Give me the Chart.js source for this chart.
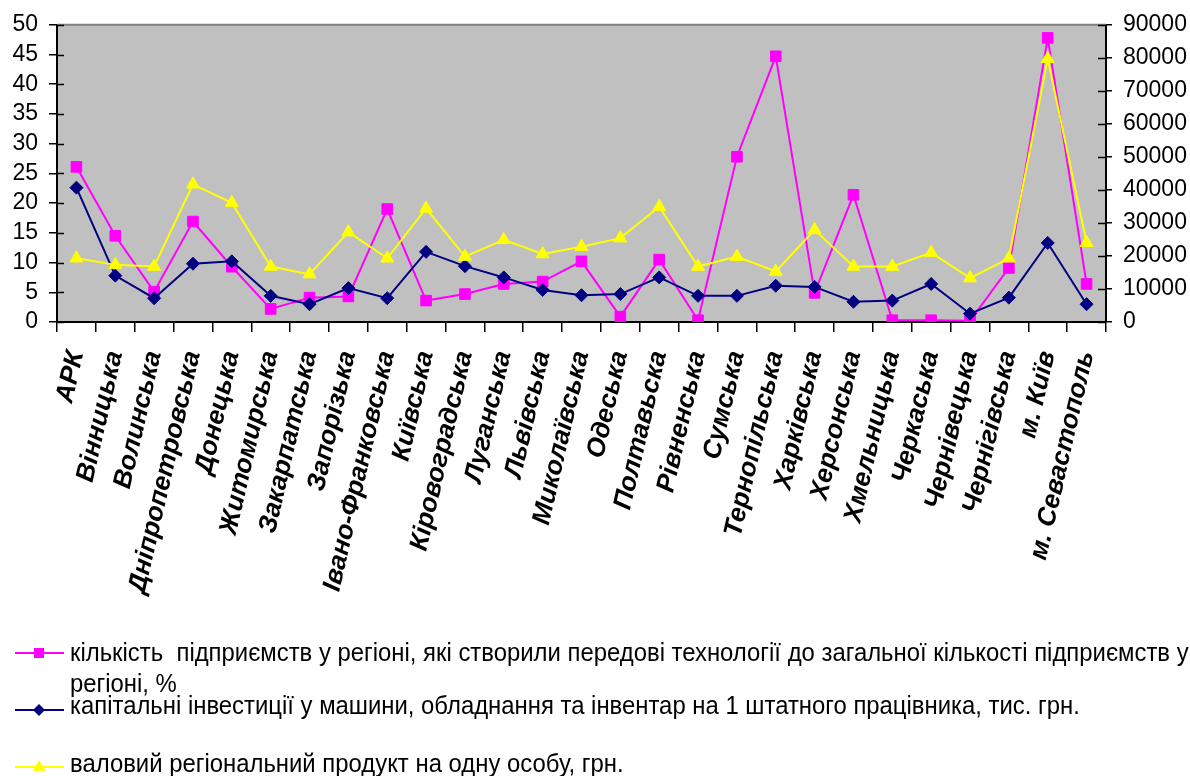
<!DOCTYPE html>
<html lang="uk">
<head>
<meta charset="utf-8">
<title>Регіони України: технології, інвестиції, ВРП</title>
<script src="https://cdn.jsdelivr.net/npm/chart.js@4.4.1/dist/chart.umd.min.js"></script>
<style>
  html, body { margin: 0; padding: 0; background: #ffffff; }
  #wrap { position: relative; width: 1190px; height: 776px; overflow: hidden; }
  #c { position: absolute; left: 0; top: 0; }
  .lg {
    position: absolute; left: 70px;
    font-family: Arial, "Liberation Sans", sans-serif;
    font-size: 25px; line-height: 1; color: #000;
    white-space: pre;
    transform-origin: 0 0; transform: scaleX(0.955);
  }
</style>
</head>
<body>
<div id="wrap">
  <canvas id="c" width="1190" height="776"></canvas>
  <div class="lg" id="lg1" style="top:640px"></div>
  <div class="lg" id="lg1b" style="top:671px"></div>
  <div class="lg" id="lg2" style="top:693px"></div>
  <div class="lg" id="lg3" style="top:751px"></div>
</div>
<script>
// Regions (categories on the x axis)
const regions = [
  'АРК', 'Вінницька', 'Волинська', 'Дніпропетровська', 'Донецька', 'Житомирська',
  'Закарпатська', 'Запорізька', 'Івано-Франковська', 'Київська', 'Кіровоградська',
  'Луганська', 'Львівська', 'Миколаївська', 'Одеська', 'Полтавьска', 'Рівненська',
  'Сумська', 'Тернопільська', 'Харківська', 'Херсонська', 'Хмельницька', 'Черкаська',
  'Чернівецька', 'Чернігівська', 'м. Київ', 'м. Севастополь'
];

// Share of enterprises that created advanced technologies, % (left axis)
const advancedTechShare = [
  26.1, 14.5, 5.1, 16.9, 9.3, 2.2, 4.1, 4.3, 19.0, 3.6, 4.7, 6.4, 6.8, 10.2,
  0.9, 10.5, 0.3, 27.8, 44.7, 4.9, 21.4, 0.3, 0.3, 0.2, 9.1, 47.8, 6.4
];

// Capital investment in machinery per employee, thousand UAH (left axis)
const equipmentInvestment = [
  22.6, 7.8, 4.0, 9.8, 10.2, 4.4, 3.0, 5.7, 4.0, 11.8, 9.4, 7.5, 5.4, 4.5,
  4.7, 7.5, 4.4, 4.4, 6.1, 5.9, 3.4, 3.6, 6.4, 1.4, 4.1, 13.3, 3.0
];

// Gross regional product per capita, UAH (right axis)
const grpPerCapita = [
  19300, 17300, 16800, 41700, 36100, 16800, 14500, 27200, 19300, 34400, 19800,
  24900, 20600, 22800, 25400, 34900, 16800, 19800, 15300, 27900, 16800, 16800,
  21000, 13300, 19300, 79700, 24000
];

// Series names
const seriesNames = [
  'кількість  підприємств у регіоні, які створили передові технології до загальної кількості підприємств у',
  'регіоні, %',
  'капітальні інвестиції у машини, обладнання та інвентар на 1 штатного працівника, тис. грн.',
  'валовий регіональний продукт на одну особу, грн.'
];

document.getElementById('lg1').textContent = seriesNames[0];
document.getElementById('lg1b').textContent = seriesNames[1];
document.getElementById('lg2').textContent = seriesNames[2];
document.getElementById('lg3').textContent = seriesNames[3];

const PINK = '#FF00FF', NAVY = '#000080', YELLOW = '#FFFF00';
const FONT = 'Arial, "Liberation Sans", sans-serif';

// Grey plot background, top frame, inner halves of the value-axis ticks, legend keys
const plotDecor = {
  id: 'plotDecor',
  beforeDraw(chart) {
    const { ctx, chartArea: a } = chart;
    ctx.save();
    ctx.fillStyle = '#C0C0C0';
    ctx.fillRect(a.left, a.top, a.right - a.left, a.bottom - a.top);
    ctx.restore();
  },
  afterDraw(chart) {
    const { ctx, chartArea: a, scales } = chart;
    ctx.save();
    ctx.strokeStyle = '#808080';
    ctx.lineWidth = 2;
    ctx.beginPath();
    ctx.moveTo(a.left, a.top);
    ctx.lineTo(a.right, a.top);
    ctx.stroke();

    ctx.strokeStyle = '#000';
    ctx.lineWidth = 1.5;
    scales.y.ticks.forEach(t => {
      const p = Math.round(scales.y.getPixelForValue(t.value)) + 0.5;
      ctx.beginPath(); ctx.moveTo(a.left, p); ctx.lineTo(a.left + 7, p); ctx.stroke();
    });
    scales.y1.ticks.forEach(t => {
      const p = Math.round(scales.y1.getPixelForValue(t.value)) + 0.5;
      ctx.beginPath(); ctx.moveTo(a.right - 8, p); ctx.lineTo(a.right, p); ctx.stroke();
    });

    // legend keys
    const keys = [
      { y: 653, color: PINK, shape: 'square' },
      { y: 710, color: NAVY, shape: 'diamond' },
      { y: 767, color: YELLOW, shape: 'triangle' }
    ];
    keys.forEach(k => {
      ctx.strokeStyle = k.color;
      ctx.fillStyle = k.color;
      ctx.lineWidth = 2;
      ctx.beginPath(); ctx.moveTo(15, k.y); ctx.lineTo(64, k.y); ctx.stroke();
      const cx = 39;
      ctx.beginPath();
      if (k.shape === 'square') {
        ctx.rect(cx - 5, k.y - 5, 10, 10);
      } else if (k.shape === 'diamond') {
        ctx.moveTo(cx, k.y - 6); ctx.lineTo(cx + 6, k.y); ctx.lineTo(cx, k.y + 6); ctx.lineTo(cx - 6, k.y); ctx.closePath();
      } else {
        ctx.moveTo(cx, k.y - 7); ctx.lineTo(cx + 6.5, k.y + 4); ctx.lineTo(cx - 6.5, k.y + 4); ctx.closePath();
      }
      ctx.fill();
    });
    ctx.restore();
  }
};

new Chart(document.getElementById('c'), {
  type: 'line',
  data: {
    labels: regions,
    datasets: [
      {
        label: seriesNames[0] + ' ' + seriesNames[1],
        data: advancedTechShare,
        yAxisID: 'y',
        borderColor: PINK, backgroundColor: PINK,
        borderWidth: 2, pointStyle: 'rect', pointRadius: 7.5,
        pointBorderWidth: 1, order: 2
      },
      {
        label: seriesNames[2],
        data: equipmentInvestment,
        yAxisID: 'y',
        borderColor: NAVY, backgroundColor: NAVY,
        borderWidth: 2, pointStyle: 'rectRot', pointRadius: 6.5,
        pointBorderWidth: 1, order: 1
      },
      {
        label: seriesNames[3],
        data: grpPerCapita,
        yAxisID: 'y1',
        borderColor: YELLOW, backgroundColor: YELLOW,
        borderWidth: 2, pointStyle: 'triangle', pointRadius: 7.5,
        pointBorderWidth: 1, order: 0
      }
    ]
  },
  options: {
    responsive: false,
    animation: false,
    layout: { padding: { top: 24, left: 0, right: 0, bottom: 0 } },
    elements: { line: { tension: 0 } },
    plugins: { legend: { display: false }, tooltip: { enabled: false } },
    scales: {
      x: {
        offset: true,
        grid: { offset: true, drawOnChartArea: false, color: '#000', lineWidth: 1.5, tickLength: 10 },
        border: { color: '#000', width: 2 },
        ticks: {
          autoSkip: false, maxRotation: 77, minRotation: 77, padding: 16,
          color: '#000',
          font: { family: FONT, size: 26, weight: 'bold', style: 'italic' }
        },
        afterFit(s) { s.height = 454; }
      },
      y: {
        position: 'left',
        min: 0, max: 50,
        grid: { drawOnChartArea: false, color: '#000', lineWidth: 1.5, tickLength: 8 },
        border: { color: '#000', width: 2 },
        ticks: {
          stepSize: 5, autoSkip: false, padding: 11, color: '#000',
          font: { family: FONT, size: 23 },
          callback: v => String(v)
        },
        afterFit(s) { s.width = 57; }
      },
      y1: {
        position: 'right',
        min: 0, max: 90000,
        grid: { drawOnChartArea: false, color: '#000', lineWidth: 1.5, tickLength: 6 },
        border: { color: '#000', width: 2 },
        ticks: {
          stepSize: 10000, autoSkip: false, padding: 11, color: '#000',
          font: { family: FONT, size: 23 },
          callback: v => String(v)
        },
        afterFit(s) { s.width = 84; }
      }
    }
  },
  plugins: [plotDecor]
});
</script>
</body>
</html>
